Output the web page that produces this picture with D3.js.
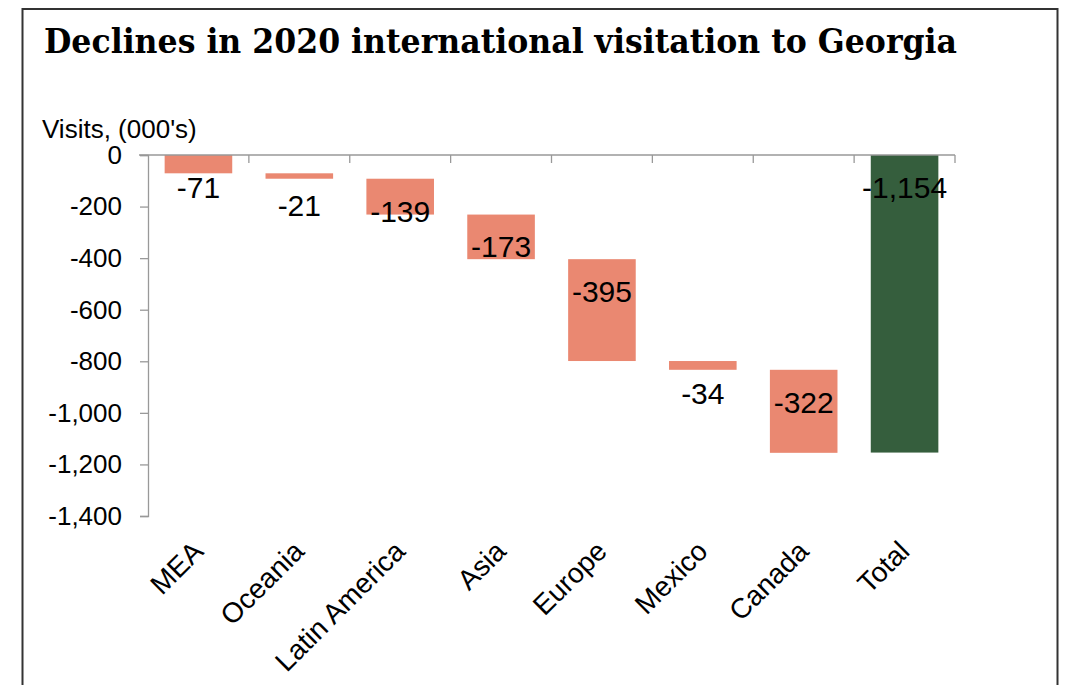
<!DOCTYPE html>
<html>
<head>
<meta charset="utf-8">
<script src="https://cdn.jsdelivr.net/npm/d3@7"></script>
<style>
  body { margin: 0; background: #fff; }
  text { font-family: Arial, "Liberation Sans", sans-serif; fill: #000; }
</style>
</head>
<body>
<div id="chart"></div>
<script>
// data
var regions = ["MEA", "Oceania", "Latin America", "Asia", "Europe", "Mexico", "Canada", "Total"];
var changes = [-71, -21, -139, -173, -395, -34, -322, -1154];
var isTotal = [false, false, false, false, false, false, false, true];
var yTicks = [0, -200, -400, -600, -800, -1000, -1200, -1400];

var W = 1068, H = 685;

var svg = d3.select("#chart")
  .append("svg")
    .attr("width", W)
    .attr("height", H);

// frame
svg.append("rect")
  .attr("x", 22.5).attr("y", 9)
  .attr("width", 1035).attr("height", 700)
  .attr("fill", "none")
  .attr("stroke", "#333")
  .attr("stroke-width", 2);

// title
svg.append("text")
  .attr("x", 44)
  .attr("y", 53)
  .attr("textLength", 913)
  .attr("lengthAdjust", "spacingAndGlyphs")
  .style("font-family", "Georgia, 'DejaVu Serif', serif")
  .style("font-weight", "bold")
  .style("font-size", "33px")
  .text("Declines in 2020 international visitation to Georgia");

// waterfall steps
var bars = [];
var run = 0;
regions.forEach(function(r, i) {
  if (isTotal[i]) {
    bars.push({name: r, start: 0, end: changes[i], v: changes[i], total: true});
  } else {
    bars.push({name: r, start: run, end: run + changes[i], v: changes[i], total: false});
    run += changes[i];
  }
});

var x = d3.scaleBand()
  .domain(regions)
  .range([148, 955])
  .padding(0);

var y = d3.scaleLinear()
  .domain([-1400, 0])
  .range([516, 155]);

var loc = d3.formatLocale({decimal: ".", thousands: ",", grouping: [3], currency: ["$", ""], minus: "-"});
var fmt = loc.format(",");

// y axis
var yAxis = svg.append("g")
  .attr("transform", "translate(148,0)")
  .call(d3.axisLeft(y).tickValues(yTicks).tickSize(8).tickPadding(18).tickFormat(fmt));
yAxis.select(".domain").attr("stroke", "#999").attr("stroke-width", 1.3);
yAxis.selectAll(".tick line").attr("stroke", "#999").attr("stroke-width", 1.3);
yAxis.selectAll(".tick text")
  .style("font-family", "Arial, 'Liberation Sans', sans-serif")
  .style("font-size", "26px")
  .attr("fill", "#000");

// axis title
svg.append("text")
  .attr("x", 42)
  .attr("y", 138)
  .style("font-size", "26px")
  .text("Visits, (000's)");

// bars
var bw = x.bandwidth();
svg.append("g")
  .selectAll("rect")
  .data(bars)
  .enter()
  .append("rect")
    .attr("x", function(d) { return x(d.name) + bw * 0.165; })
    .attr("width", bw * 0.67)
    .attr("y", function(d) { return y(d.start); })
    .attr("height", function(d) { return y(d.end) - y(d.start); })
    .attr("fill", function(d) { return d.total ? "#355E3D" : "#EA8871"; });

// x axis line with ticks between categories
var xAxis = svg.append("g");
xAxis.append("line")
  .attr("x1", 139).attr("x2", 955)
  .attr("y1", y(0)).attr("y2", y(0))
  .attr("stroke", "#999").attr("stroke-width", 1.3);
xAxis.selectAll(".xt")
  .data(regions.slice(1).concat(["_end"]))
  .enter()
  .append("line")
    .attr("x1", function(d) { return d === "_end" ? 955 : x(d); })
    .attr("x2", function(d) { return d === "_end" ? 955 : x(d); })
    .attr("y1", y(0)).attr("y2", y(0) + 8)
    .attr("stroke", "#999").attr("stroke-width", 1.3);

// value labels
svg.append("g")
  .selectAll("text")
  .data(bars)
  .enter()
  .append("text")
    .attr("x", function(d) { return x(d.name) + bw / 2; })
    .attr("y", function(d) { return y(d.start) + 32; })
    .attr("dy", "0.36em")
    .attr("text-anchor", "middle")
    .style("font-size", "30px")
    .text(function(d) { return fmt(d.v); });

// category labels
svg.append("g")
  .selectAll("text")
  .data(regions)
  .enter()
  .append("text")
    .attr("transform", function(d) { return "translate(" + (x(d) + bw / 2 + 6.5) + ",553) rotate(-45)"; })
    .attr("text-anchor", "end")
    .style("font-size", "28px")
    .text(function(d) { return d; });
</script>
</body>
</html>
